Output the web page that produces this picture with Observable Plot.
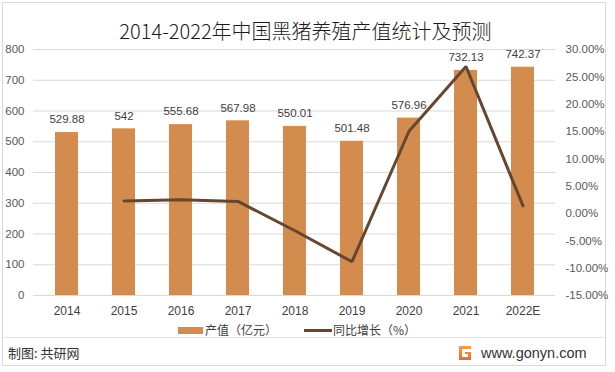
<!DOCTYPE html>
<html>
<head>
<meta charset="utf-8">
<script src="https://cdn.jsdelivr.net/npm/d3@7"></script>
<script src="https://cdn.jsdelivr.net/npm/@observablehq/plot@0.6"></script>
<style>
  html, body { margin: 0; padding: 0; background: #fff; }
  #wrap { position: relative; width: 615px; height: 372px; background: #fff; overflow: hidden;
          font-family: "Liberation Sans", "Noto Sans CJK SC", sans-serif; }
  #frame { position: absolute; left: 2px; top: 2px; width: 604px; height: 364px; border: 1px solid #d9d9d9; box-sizing: border-box; }
  #title { position: absolute; left: 0; width: 611px; top: 19px; text-align: center; font-size: 20px; line-height: 24px; color: #1a1a1a;
           font-family: "Noto Sans CJK SC", sans-serif; font-weight: 300; }
  #chart { position: absolute; left: 0; top: 0; }
  .leg { position: absolute; font-size: 12px; line-height: 14px; color: #404040; font-family: "Noto Sans CJK SC", sans-serif; }
  #sep { position: absolute; left: 3px; width: 602px; top: 337px; height: 1px; background: #e3e3e3; }
  #cap { position: absolute; left: 8px; top: 344px; font-size: 13px; line-height: 18px; color: #333; font-family: "Noto Sans CJK SC", sans-serif; }
  #site { position: absolute; left: 458px; top: 343px; font-size: 14.5px; line-height: 20px; color: #333; font-family: "Liberation Sans", sans-serif; display: flex; align-items: center; }
</style>
</head>
<body>
<div id="wrap">
  <div id="frame"></div>
  <div id="chart"></div>
  <div id="title">2014-2022年中国黑猪养殖产值统计及预测</div>
  <div class="leg" id="legBar" style="left:178px; top:323px;"><span style="display:inline-block;width:25px;height:7px;background:#D38C4E;vertical-align:middle;margin-right:2px;position:relative;top:-1px"></span>产值（亿元）</div>
  <div class="leg" id="legLine" style="left:304px; top:323px;"><span style="display:inline-block;width:28px;height:3px;background:#654630;vertical-align:middle;margin-right:1px;position:relative;top:-1px"></span>同比增长（%）</div>
  <div id="sep"></div>
  <div id="cap">制图: 共研网</div>
  <div id="site">
    <svg width="14" height="16" style="margin-right:9px">
      <defs><linearGradient id="lg" x1="0" y1="0" x2="0" y2="1"><stop offset="0" stop-color="#f6a04c"/><stop offset="1" stop-color="#ea6a2c"/></linearGradient></defs>
      <path d="M1 1 H13 V4 H4 V12 H10 V9 H7 V7 H13 V15 H1 Z" fill="url(#lg)"/>
    </svg>
    <span>www.gonyn.com</span>
  </div>
</div>
<script>
const years = ["2014", "2015", "2016", "2017", "2018", "2019", "2020", "2021", "2022E"];
const values = [529.88, 542, 555.68, 567.98, 550.01, 501.48, 576.96, 732.13, 742.37];
const growthYears = ["2015", "2016", "2017", "2018", "2019", "2020", "2021", "2022E"];
const growth = [2.29, 2.52, 2.21, -3.16, -8.82, 15.05, 26.89, 1.40];
const leftTicks = [0, 100, 200, 300, 400, 500, 600, 700, 800];
const rightTicks = [-15, -10, -5, 0, 5, 10, 15, 20, 25, 30];

// right axis maps [-15, 30] onto the left scale's [0, 800]
const gMin = -15, gMax = 30, yMax = 800;
const toY = g => (g - gMin) / (gMax - gMin) * yMax;
const fromY = v => Math.round((v / yMax * (gMax - gMin) + gMin) * 100) / 100 + 0;

const bars = years.map((y, i) => ({year: y, value: values[i]}));
const line = growthYears.map((y, i) => ({year: y, g: growth[i]}));

const font = "Liberation Sans, Noto Sans CJK SC, sans-serif";

const chart = Plot.plot({
  width: 615,
  height: 330,
  marginTop: 49,
  marginBottom: 35,
  marginLeft: 33,
  marginRight: 60,
  style: {fontFamily: font, background: "transparent", overflow: "visible"},
  x: {type: "band", domain: years, paddingInner: 0.6, paddingOuter: 0.31, label: null},
  y: {domain: [0, yMax], label: null},
  marks: [
    Plot.gridY(leftTicks, {stroke: "#d9d9d9", strokeOpacity: 1}),
    Plot.barY(bars, {x: "year", y: "value", fill: "#D38C4E"}),
    Plot.text(bars, {x: "year", y: "value", text: d => String(d.value), dy: -13, fontSize: 11.5, fill: "#404040"}),
    Plot.line(line, {x: "year", y: d => toY(d.g), stroke: "#654630", strokeWidth: 3, strokeLinejoin: "miter"}),
    Plot.axisY(leftTicks, {anchor: "left", tickSize: 0, tickPadding: 9, fontSize: 11.5, color: "#595959", label: null}),
    Plot.axisY(rightTicks.map(toY), {anchor: "right", tickSize: 0, tickPadding: 10, fontSize: 11.5, color: "#595959", label: null,
      tickFormat: v => { const g = fromY(v); return (Math.abs(g) < 1e-9 ? 0 : g).toFixed(2) + "%"; }}),
    Plot.axisX({tickSize: 0, tickPadding: 11, fontSize: 12, color: "#404040", label: null})
  ]
});
document.getElementById("chart").appendChild(chart);
</script>
</body>
</html>
